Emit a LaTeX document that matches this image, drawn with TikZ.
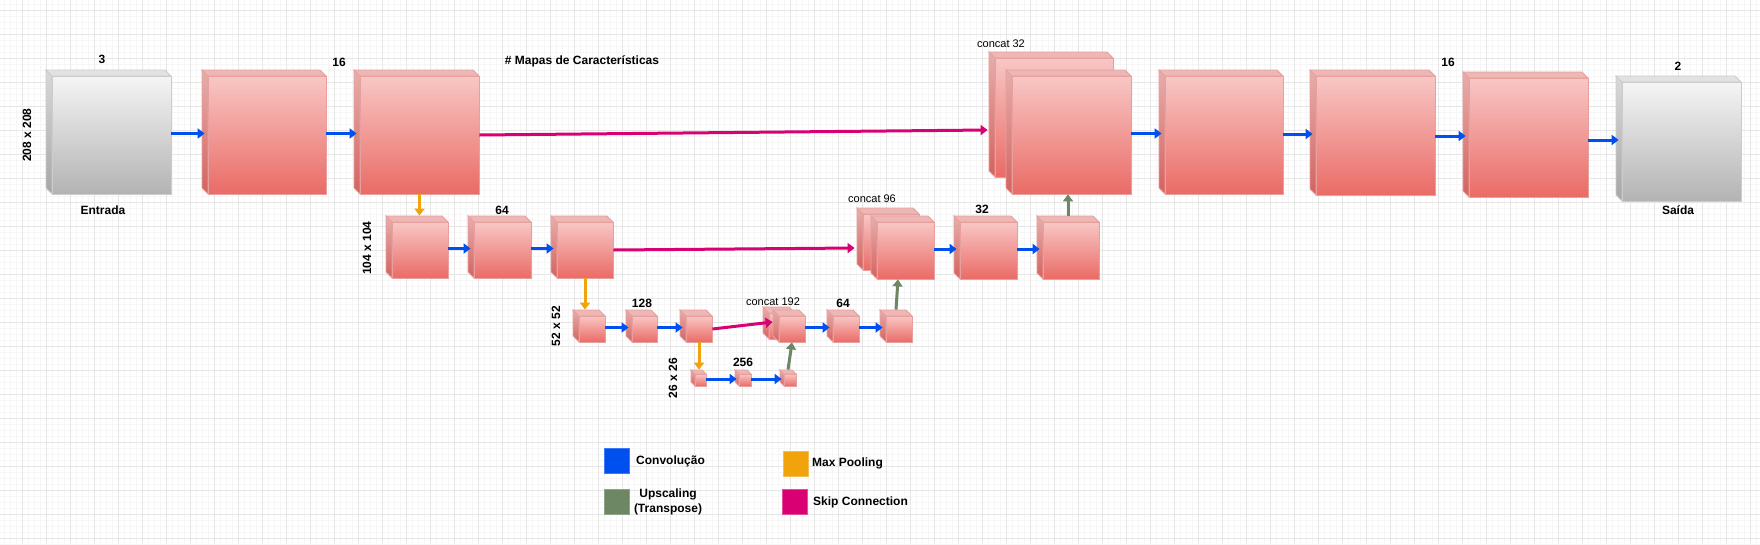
\documentclass[tikz,border=0pt]{standalone}
\usepackage{fontspec}
\setmainfont{Liberation Sans}
\usetikzlibrary{arrows.meta,fit,calc}
\definecolor{redtop}{HTML}{F8C7C5}
\definecolor{redbot}{HTML}{EA6B66}
\definecolor{redsidetop}{HTML}{E6AEAC}
\definecolor{redsidebot}{HTML}{D4625E}
\definecolor{redtopc}{HTML}{EDB7B5}
\definecolor{redstroke}{HTML}{E8A09E}
\definecolor{graytop}{HTML}{F5F5F5}
\definecolor{graybot}{HTML}{B3B3B3}
\definecolor{graysidetop}{HTML}{D9D9D9}
\definecolor{graysidebot}{HTML}{A6A6A6}
\definecolor{graytopc}{HTML}{E2E2E2}
\definecolor{graystroke}{HTML}{CCCCCC}
\definecolor{convblue}{HTML}{0050EF}
\definecolor{convbluedk}{HTML}{3D7BF5}
\definecolor{poolorange}{HTML}{F0A30A}
\definecolor{poolorangedk}{HTML}{F5BE55}
\definecolor{upgreen}{HTML}{6D8764}
\definecolor{upgreendk}{HTML}{8FA387}
\definecolor{skipmag}{HTML}{D80073}
\definecolor{skipmagdk}{HTML}{E64D9D}
\definecolor{gridmajor}{HTML}{E6E6E6}
\definecolor{gridminor}{HTML}{F6F6F6}
\newcommand\mycube[7]{%
  \coordinate (#1-nw) at (#2,#3);
  \coordinate (#1-se) at (#4,#5);
  \path[#6side] (#2,#3) -- (#2-#7,#3-#7) -- (#2-#7,#5-#7) -- (#2,#5) -- cycle;
  \path[#6topface] (#2,#3) -- (#2-#7,#3-#7) -- (#4-#7,#3-#7) -- (#4,#3) -- cycle;
  \node[#6face, fit=(#1-nw)(#1-se)] (#1) {};
  \coordinate (#1-in) at ([shift={(-#7/2,-#7/4)}]#1.west);
  \coordinate (#1-top) at ([shift={(-#7/2,-#7)}]#1.north);
}
\begin{document}
\begin{tikzpicture}[x=1pt,y=-1pt,
  redside/.style={draw=redstroke, line width=0.8pt, top color=redsidetop, bottom color=redsidebot},
  redtopface/.style={draw=redstroke, line width=0.8pt, fill=redtopc},
  redface/.style={draw=redstroke, line width=0.8pt, top color=redtop, bottom color=redbot, inner sep=0pt},
  grayside/.style={draw=graystroke, line width=0.8pt, top color=graysidetop, bottom color=graysidebot},
  graytopface/.style={draw=graystroke, line width=0.8pt, fill=graytopc},
  grayface/.style={draw=graystroke, line width=0.8pt, top color=graytop, bottom color=graybot, inner sep=0pt},
  arr/.style={line width=3pt, -{Triangle[length=7pt,width=10pt]}},
  conv/.style={arr, draw=convblue},
  pool/.style={arr, draw=poolorange},
  upsc/.style={arr, draw=upgreen},
  skipc/.style={arr, draw=skipmag},
  lbl/.style={font=\bfseries\fontsize{12}{14}\selectfont, inner sep=0pt},
  clbl/.style={font=\fontsize{11}{13}\selectfont, inner sep=0pt},
  legsq/.style={minimum size=25pt, inner sep=0pt, line width=1pt},
  legtxt/.style={font=\bfseries\fontsize{12}{15}\selectfont, inner sep=0pt}
]
\useasboundingbox (0,0) rectangle (1760,544);
\fill[white] (0,0) rectangle (1760,544);
\begin{scope}[line width=0.8pt]
\foreach \i in {4,10,...,1760} \draw[gridminor] (\i,0) -- (\i,544);
\foreach \j in {4,10,...,544} \draw[gridminor] (0,\j) -- (1760,\j);
\foreach \i in {22,46,...,1760} \draw[gridmajor] (\i,0) -- (\i,544);
\foreach \j in {10,34,...,544} \draw[gridmajor] (0,\j) -- (1760,\j);
\end{scope}

% row 1
\mycube{inp}{52}{76}{171}{194}{gray}{6}
\mycube{c1}{208}{76}{326}{194}{red}{6}
\mycube{c2}{360}{76}{479}{194}{red}{6}
\mycube{cat32b}{995}{58}{1113}{177}{red}{6}
\mycube{cat32f}{1012}{76}{1131}{194}{red}{6}
\mycube{u1}{1165}{76}{1283}{194}{red}{6}
\mycube{u2}{1316}{76}{1435}{195}{red}{6}
\mycube{u3}{1469}{78}{1588}{197}{red}{6}
\mycube{outp}{1622}{82}{1741}{201}{gray}{6}
% row 2
\mycube{d1a}{392}{222}{448}{278}{red}{6}
\mycube{d1b}{474}{222}{531}{278}{red}{6}
\mycube{d1c}{557}{222}{613}{278}{red}{6}
\mycube{cat96b}{863}{214}{919}{270}{red}{6}
\mycube{cat96f}{877}{222}{934}{279}{red}{6}
\mycube{u4}{960}{222}{1017}{279}{red}{6}
\mycube{u5}{1043}{222}{1099}{279}{red}{6}
% row 3
\mycube{d2a}{579}{316}{605}{342}{red}{6}
\mycube{d2b}{632}{316}{657}{342}{red}{6}
\mycube{d2c}{686}{316}{712}{342}{red}{6}
\mycube{cat192b}{769}{313}{795}{339}{red}{6}
\mycube{cat192f}{779}{316}{805}{342}{red}{6}
\mycube{u6}{833}{316}{859}{342}{red}{6}
\mycube{u7}{886}{316}{912}{342}{red}{6}
% row 4
\mycube{b1}{695}{374}{706}{386}{red}{4}
\mycube{b2}{739}{374}{751}{386}{red}{4}
\mycube{b3}{784}{374}{796}{386}{red}{4}

% convolutions
\draw[conv] (inp.east |- c1-in) -- (c1-in);
\draw[conv] (c1.east |- c2-in) -- (c2-in);
\draw[conv] (cat32f.east |- u1-in) -- (u1-in);
\draw[conv] (u1.east |- u2-in) -- (u2-in);
\draw[conv] (u2.east |- u3-in) -- (u3-in);
\draw[conv] (u3.east |- outp-in) -- (outp-in);
\draw[conv] (d1a.east |- d1b-in) -- (d1b-in);
\draw[conv] (d1b.east |- d1c-in) -- (d1c-in);
\draw[conv] (cat96f.east |- u4-in) -- (u4-in);
\draw[conv] (u4.east |- u5-in) -- (u5-in);
\draw[conv] (d2a.east |- d2b-in) -- (d2b-in);
\draw[conv] (d2b.east |- d2c-in) -- (d2c-in);
\draw[conv] (cat192f.east |- u6-in) -- (u6-in);
\draw[conv] (u6.east |- u7-in) -- (u7-in);
\draw[conv] (b1.east |- b2-in) -- (b2-in);
\draw[conv] (b2.east |- b3-in) -- (b3-in);
% max pooling
\draw[pool] (c2.south) -- (c2.south |- d1a-top);
\draw[pool] (d1c.south) -- (d1c.south |- d2a-top);
\draw[pool] (d2c.south) -- (d2c.south |- b1-top);
% upscaling
\draw[upsc] (b3-top) -- (cat192f.south);
\draw[upsc] (u7-top) -- ($(cat96f.south west)!0.37!(cat96f.south east)$);
\draw[upsc] (u5-top) -- (u5-top |- cat32f.south);
% skip connections
\draw[skipc] (c2.east) -- ([shift={(-7,12.5)}]cat32b.west);
\draw[skipc] (d1c.east) -- ([shift={(-8,6)}]cat96b.west);
\draw[skipc] (d2c.east) -- ([shift={(-6,-7)}]cat192f.west);

% labels
\node[lbl] (l3) at (102,59) {3};
\node[lbl] (l16a) at (339,62) {16};
\node[lbl] (ltitle) at (582,61) {\# Mapas de Características};
\node[lbl, rotate=90] (l208) at (27,135) {208 x 208};
\node[lbl] (lent) at (103,210) {Entrada};
\node[lbl, rotate=90] (l104) at (367,248) {104 x 104};
\node[lbl] (l64a) at (502,210) {64};
\node[lbl, rotate=90] (l52) at (556,326) {52 x 52};
\node[lbl] (l128) at (642,303) {128};
\node[clbl] (lc192) at (773,302) {concat 192};
\node[lbl] (l64b) at (843,303) {64};
\node[lbl, rotate=90] (l26) at (673,378) {26 x 26};
\node[lbl] (l256) at (743,362) {256};
\node[clbl] (lc96) at (872,199) {concat 96};
\node[lbl] (l32) at (982,209) {32};
\node[clbl] (lc32) at (1001,44) {concat 32};
\node[lbl] (l16b) at (1448,62) {16};
\node[lbl] (l2) at (1678,66) {2};
\node[lbl] (lsai) at (1678,210) {Saída};

% legend
\node[legsq, fill=convblue, draw=convbluedk] (lg1) at (616.5,460.5) {};
\node[legtxt, anchor=west] (lg1t) at (636,461) {Convolução};
\node[legsq, fill=upgreen, draw=upgreendk] (lg2) at (616.5,502) {};
\node[legtxt, align=center] (lg2t) at (668,501.5) {Upscaling\\(Transpose)};
\node[legsq, fill=poolorange, draw=poolorangedk] (lg3) at (795.5,463.5) {};
\node[legtxt, anchor=west] (lg3t) at (812,463) {Max Pooling};
\node[legsq, fill=skipmag, draw=skipmagdk] (lg4) at (794.5,502) {};
\node[legtxt, anchor=west] (lg4t) at (813,502) {Skip Connection};
\end{tikzpicture}
\end{document}
